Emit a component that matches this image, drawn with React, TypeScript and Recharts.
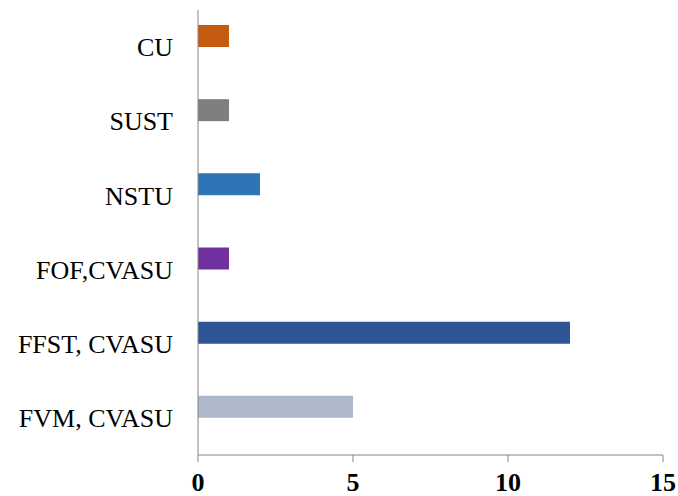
import React from 'react';
import { BarChart, Bar, XAxis, YAxis, Cell } from 'recharts';

// top to bottom, as drawn
const institutes = ['CU', 'SUST', 'NSTU', 'FOF,CVASU', 'FFST, CVASU', 'FVM, CVASU'];
const counts = [1, 1, 2, 1, 12, 5];
const barColors = ['#C55A11', '#7F7F7F', '#2E75B6', '#7030A0', '#2F5597', '#ADB9CA'];
const xTicks = [0, 5, 10, 15];
const bandTicks = [0, 1, 2, 3, 4, 5, 6];

const data = institutes.map((name, i) => ({ name, count: counts[i], blank: null }));

const serif = 'Liberation Serif';

const App: React.FC = () => {
  return (
    <div style={{ position: 'absolute', left: 0, top: 0, width: 678, height: 496, background: '#fff' }}>
      <BarChart
        width={678}
        height={496}
        data={data}
        layout="vertical"
        margin={{ top: 10, right: 15, bottom: 0, left: 0 }}
        barGap={0}
        barSize={22}
      >
        <XAxis
          type="number"
          domain={[0, 15]}
          ticks={xTicks}
          height={41}
          stroke="#868686"
          tickSize={7}
          tickMargin={11}
          tick={{ fill: '#000', fontFamily: serif, fontSize: 26, fontWeight: 'bold' }}
        />
        <YAxis
          yAxisId="bands"
          type="number"
          domain={[0, 6]}
          ticks={bandTicks}
          width={10}
          stroke="#868686"
          tickSize={8}
          tick={false}
        />
        <YAxis
          yAxisId="cat"
          type="category"
          dataKey="name"
          width={188}
          axisLine={false}
          tickLine={false}
          tickSize={0}
          tickMargin={15}
          interval={0}
          tick={{ fill: '#000', fontFamily: serif, fontSize: 26 }}
        />
        <Bar yAxisId="cat" dataKey="count" isAnimationActive={false}>
          {data.map((d, i) => (
            <Cell key={d.name} fill={barColors[i]} />
          ))}
        </Bar>
        <Bar yAxisId="cat" dataKey="blank" fill="none" isAnimationActive={false} />
      </BarChart>
    </div>
  );
};

export default App;
